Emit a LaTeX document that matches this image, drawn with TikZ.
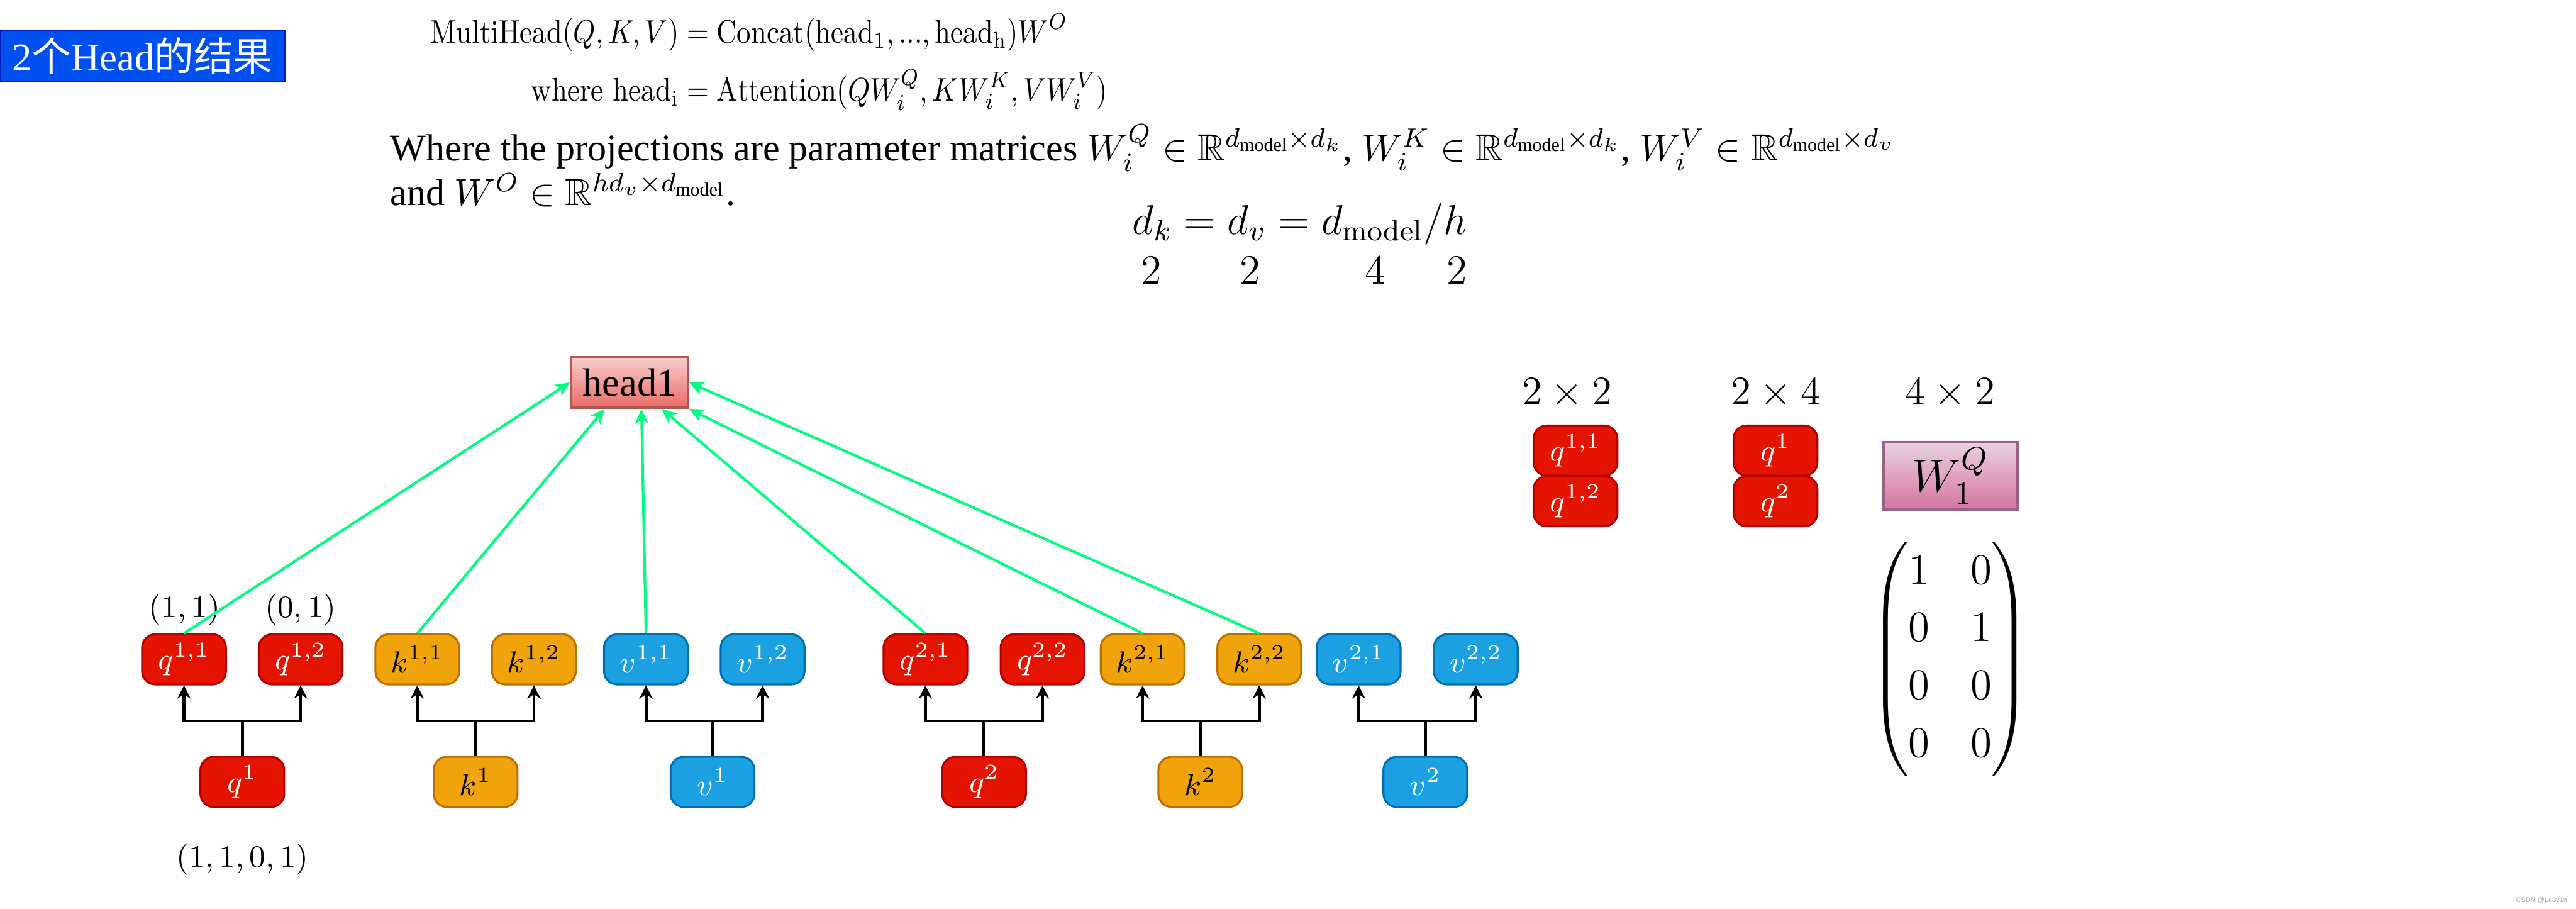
\RequirePackage{fix-cm}
\documentclass[tikz,border=0pt]{standalone}
\usepackage{amsmath,amssymb}
\usepackage{fontspec}
\usepackage{tikz}
\usetikzlibrary{arrows.meta,calc}
\newfontfamily\timesfont{Liberation Serif}
\newfontfamily\cjkfont{Noto Sans CJK SC}
\newfontfamily\markfont{Liberation Sans}

\definecolor{qred}{HTML}{E51400}
\definecolor{qredline}{HTML}{B20000}
\definecolor{kamber}{HTML}{F0A30A}
\definecolor{kamberline}{HTML}{BD7000}
\definecolor{vblue}{HTML}{1BA1E2}
\definecolor{vblueline}{HTML}{006EAF}
\definecolor{attngreen}{HTML}{00FF80}
\definecolor{titleblue}{HTML}{0050EF}
\definecolor{titleline}{HTML}{001DBC}
\definecolor{headtop}{HTML}{F8CECC}
\definecolor{headbot}{HTML}{EA6B66}
\definecolor{headline}{HTML}{B85450}
\definecolor{wtop}{HTML}{E8D2E0}
\definecolor{wbot}{HTML}{D6759F}
\definecolor{wline}{HTML}{996185}

\begin{document}
\begin{tikzpicture}[x=0.5pt,y=-0.5pt,
  every node/.style={inner sep=0pt},
  vec/.style={draw,rounded corners=4pt,line width=0.6pt,minimum width=25.5pt,minimum height=15.25pt,font=\fontsize{9.3}{11}\selectfont},
  qvec/.style={vec,fill=qred,draw=qredline,text=white},
  kvec/.style={vec,fill=kamber,draw=kamberline,text=black},
  vvec/.style={vec,fill=vblue,draw=vblueline,text=white},
  fanout/.style={line width=0.9pt,-{Stealth[length=4pt,width=4pt,inset=1.3pt]}},
  attn/.style={attngreen,line width=0.8pt,-{Stealth[length=4.5pt,width=4pt,inset=1.3pt]}},
  lbl/.style={font=\fontsize{9.5}{11}\selectfont},
  dimlbl/.style={anchor=base,font=\fontsize{12.4}{15}\selectfont},
  numlbl/.style={anchor=base,font=\fontsize{12.7}{15}\selectfont}]
\useasboundingbox (0,0) rectangle (1568,552.8);
\fill[white] (0,0) rectangle (1568,552.8);

% title and formulas
\node[draw=titleline,fill=titleblue,line width=0.55pt,text=white,minimum width=86.6pt,minimum height=15.6pt,font=\timesfont\fontsize{12}{14}\selectfont] (title) at (86.6,34) {2{\cjkfont 个}Head{\cjkfont 的结果}};
\node[anchor=north west,font=\fontsize{10}{12}\selectfont] (mh) at (261.6,7.9) {\scalebox{0.86}[1]{\setlength{\jot}{3.5pt}$\begin{aligned}\mathrm{MultiHead}(Q,K,V) &= \mathrm{Concat}(\mathrm{head_1}, ..., \mathrm{head_h})W^O\\ \text{where}\ \mathrm{head_i} &= \mathrm{Attention}(QW^Q_i, KW^K_i, VW^V_i)\end{aligned}$}};
\node[anchor=base west,font=\timesfont\fontsize{11.5}{13.8}\selectfont] (proj) at (237.3,97.8) {Where the projections are parameter matrices $W^Q_i \in \mathbb{R}^{d_{\text{model}}\times d_k}$, $W^K_i \in \mathbb{R}^{d_{\text{model}}\times d_k}$, $W^V_i \in \mathbb{R}^{d_{\text{model}}\times d_v}$};
\node[anchor=base west,font=\timesfont\fontsize{11.5}{13.8}\selectfont] (projo) at (237.3,125) {and $W^O \in \mathbb{R}^{hd_v\times d_{\text{model}}}$.};
\node[anchor=base west,font=\fontsize{12.7}{15}\selectfont] (dims) at (689,142.7) {$d_k = d_v = d_{\text{model}}/h$};
\node[numlbl] (nk) at (701,173) {$2$};
\node[numlbl] (nv) at (761,173) {$2$};
\node[numlbl] (nmodel) at (837,173) {$4$};
\node[numlbl] (nh) at (887,173) {$2$};

% head
\node[draw=headline,line width=0.7pt,top color=headtop,bottom color=headbot,minimum width=35.5pt,minimum height=15.4pt,font=\timesfont\fontsize{12}{14}\selectfont] (head1) at (383.2,232.7) {head1};

% split vectors
\node[qvec] (q11) at (112,401.25) {$q^{1,1}$};
\node[qvec] (q12) at (183,401.25) {$q^{1,2}$};
\node[kvec] (k11) at (254,401.25) {$k^{1,1}$};
\node[kvec] (k12) at (325,401.25) {$k^{1,2}$};
\node[vvec] (v11) at (393.2,401.25) {$v^{1,1}$};
\node[vvec] (v12) at (464.2,401.25) {$v^{1,2}$};
\node[qvec] (q21) at (563.3,401.25) {$q^{2,1}$};
\node[qvec] (q22) at (634.6,401.25) {$q^{2,2}$};
\node[kvec] (k21) at (695.5,401.25) {$k^{2,1}$};
\node[kvec] (k22) at (766.5,401.25) {$k^{2,2}$};
\node[vvec] (v21) at (827,401.25) {$v^{2,1}$};
\node[vvec] (v22) at (898.3,401.25) {$v^{2,2}$};

% input vectors
\node[qvec] (q1) at (147.5,475.8) {$q^1$};
\node[kvec] (k1) at (289.5,475.8) {$k^1$};
\node[vvec] (v1) at (433.7,475.8) {$v^1$};
\node[qvec] (q2) at (599,475.8) {$q^2$};
\node[kvec] (k2) at (730.6,475.8) {$k^2$};
\node[vvec] (v2) at (867.6,475.8) {$v^2$};

\node[lbl] (l11) at (112.3,371) {$(1,1)$};
\node[lbl] (l12) at (183,371) {$(0,1)$};
\node[lbl] (lq1) at (147.6,523) {$(1,1,0,1)$};

\coordinate (bar) at (0,438.7);
\draw[fanout] (q1.north) -- (q1.north |- bar) -| (q11.south);
\draw[fanout] (q1.north) -- (q1.north |- bar) -| (q12.south);
\draw[fanout] (k1.north) -- (k1.north |- bar) -| (k11.south);
\draw[fanout] (k1.north) -- (k1.north |- bar) -| (k12.south);
\draw[fanout] (v1.north) -- (v1.north |- bar) -| (v11.south);
\draw[fanout] (v1.north) -- (v1.north |- bar) -| (v12.south);
\draw[fanout] (q2.north) -- (q2.north |- bar) -| (q21.south);
\draw[fanout] (q2.north) -- (q2.north |- bar) -| (q22.south);
\draw[fanout] (k2.north) -- (k2.north |- bar) -| (k21.south);
\draw[fanout] (k2.north) -- (k2.north |- bar) -| (k22.south);
\draw[fanout] (v2.north) -- (v2.north |- bar) -| (v21.south);
\draw[fanout] (v2.north) -- (v2.north |- bar) -| (v22.south);

% attention inputs of head1
\draw[attn] (q11.north) -- (head1.west);
\draw[attn] (k11.north) -- ($(head1.south west)!0.29!(head1.south east)$);
\draw[attn] (v11.north) -- ($(head1.south west)!0.6!(head1.south east)$);
\draw[attn] (q21.north) -- ($(head1.south west)!0.77!(head1.south east)$);
\draw[attn] (k21.north) -- (head1.south east);
\draw[attn] (k22.north) -- (head1.east);

% shapes on the right
\node[dimlbl] (d22) at (954,246.2) {$2\times 2$};
\node[dimlbl] (d24) at (1081,246.2) {$2\times 4$};
\node[dimlbl] (d42) at (1187,246.2) {$4\times 2$};
\node[qvec] (sq11) at (959,274.2) {$q^{1,1}$};
\node[qvec] (sq12) at (959,305) {$q^{1,2}$};
\node[qvec] (sq1) at (1080.7,274.2) {$q^1$};
\node[qvec] (sq2) at (1080.7,305) {$q^2$};
\node[draw=wline,line width=0.7pt,top color=wtop,bottom color=wbot,minimum width=40.8pt,minimum height=20.5pt,font=\fontsize{14}{17}\selectfont] (wq) at (1187.2,289.5) {$W^Q_1$};
\node[font=\fontsize{13.2}{16}\selectfont] (wmat) at (1187,401) {\setlength{\arraycolsep}{6.2pt}\renewcommand{\arraystretch}{1.1}$\begin{pmatrix}1&0\\0&1\\0&0\\0&0\end{pmatrix}$};

\node[anchor=east,font=\markfont\fontsize{2.1}{2.5}\selectfont,text=gray!70] (mark) at (1563,548) {CSDN @Le0v1n};
\end{tikzpicture}
\end{document}
